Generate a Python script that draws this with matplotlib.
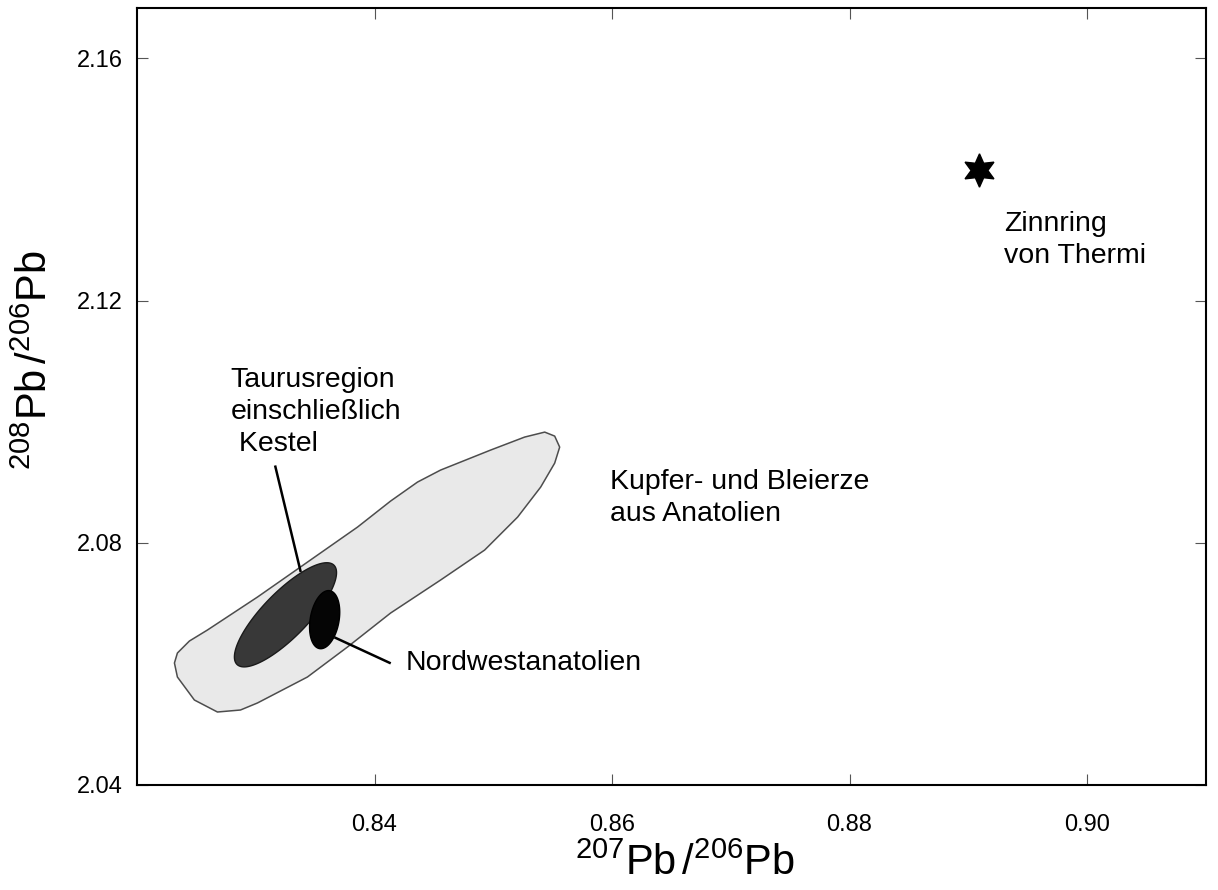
import numpy as np
import matplotlib
matplotlib.use("Agg")
import matplotlib.pyplot as plt

plt.rcParams['font.family'] = ['Liberation Sans', 'DejaVu Sans']
plt.rcParams['mathtext.fontset'] = 'custom'
plt.rcParams['mathtext.rm'] = 'Liberation Sans'
plt.rcParams['mathtext.it'] = 'Liberation Sans'

# outline of the Anatolian ore field (207Pb/206Pb, 208Pb/206Pb)
field_x = [0.82315, 0.82340, 0.82441, 0.82593, 0.83014, 0.83376, 0.83857,
           0.84135, 0.84362, 0.84556, 0.84977, 0.85264, 0.85433, 0.85517,
           0.85559, 0.85517, 0.85399, 0.85205, 0.84927, 0.84556, 0.84135,
           0.83772, 0.83435, 0.83014, 0.82871, 0.82677, 0.82483, 0.82340]
field_y = [2.06014, 2.06179, 2.06377, 2.06559, 2.07103, 2.07599, 2.08259,
           2.08688, 2.09002, 2.09200, 2.09530, 2.09745, 2.09827, 2.09761,
           2.09579, 2.09315, 2.08919, 2.08424, 2.07879, 2.07384, 2.06839,
           2.06278, 2.05783, 2.05354, 2.05238, 2.05205, 2.05403, 2.05783]

# ellipses: centre x, centre y, half width, half height, tilt phase (deg)
taurus = (0.8325, 2.0681, 0.0043, 0.0086, 36)
nw_anatolia = (0.8358, 2.0673, 0.00127, 0.0048, 75)

# tin ring from Thermi
ring_x = [0.8909]
ring_y = [2.1415]

# leader lines
taurus_line = ([0.83165, 0.83376], [2.09256, 2.07537])
nw_line = ([0.83671, 0.84127], [2.0643, 2.06017])

x_ticks = [0.84, 0.86, 0.88, 0.90]
y_ticks = [2.04, 2.08, 2.12, 2.16]


def ellipse_xy(p):
    cx, cy, rx, ry, phi = p
    t = np.linspace(0, 2 * np.pi, 200)
    return cx + rx * np.cos(t), cy + ry * np.cos(t - np.radians(phi))


fig = plt.figure(figsize=(12.18, 8.9), dpi=100)
ax = fig.add_axes([0.1125, 0.118, 0.8775, 0.873])

ax.fill(field_x, field_y, facecolor='#e9e9e9', edgecolor='#4d4d4d', lw=1.1,
        joinstyle='round', zorder=1)

ex, ey = ellipse_xy(taurus)
ax.fill(ex, ey, facecolor='#383838', edgecolor='#1a1a1a', lw=1, zorder=2)
ex, ey = ellipse_xy(nw_anatolia)
ax.fill(ex, ey, facecolor='#050505', edgecolor='#000000', lw=1, zorder=3)

ax.plot(*taurus_line, color='black', lw=1.8, zorder=4)
ax.plot(*nw_line, color='black', lw=1.8, zorder=4)

ax.plot(ring_x, ring_y, linestyle='none', marker=(6, 1, 0), ms=24,
        color='black', zorder=5)

txt = dict(fontsize=20.5, color='black', linespacing=1.32)
ax.text(0.8279, 2.1016, 'Taurusregion\neinschließlich\n Kestel', ha='left', va='center', **txt)
ax.text(0.8598, 2.0874, 'Kupfer- und Bleierze\naus Anatolien', ha='left', va='center', **txt)
ax.text(0.8426, 2.0601, 'Nordwestanatolien', ha='left', va='center', **txt)
ax.text(0.8930, 2.1300, 'Zinnring\nvon Thermi', ha='left', va='center', **txt)

ax.set_xlim(0.82, 0.91)
ax.set_ylim(2.04, 2.1683)
ax.set_xticks(x_ticks)
ax.set_xticklabels(['%.2f' % v for v in x_ticks])
ax.set_yticks(y_ticks)
ax.set_yticklabels(['%.2f' % v for v in y_ticks])

ax.tick_params(direction='in', length=8, width=0.8, color='#555555',
               labelsize=17, labelcolor='black', top=True, right=True)
ax.tick_params(axis='x', pad=21)
ax.tick_params(axis='y', pad=10)
for s in ax.spines.values():
    s.set_linewidth(1.5)

ax.set_xlabel(r'$^{207}$Pb$\,/^{206}$Pb', fontsize=30)
ax.set_ylabel(r'$^{208}$Pb$\,/^{206}$Pb', fontsize=30)
ax.xaxis.set_label_coords(0.513, -0.101)
ax.xaxis.label.set_verticalalignment('center')
ax.yaxis.set_label_coords(-0.095, 0.547)
ax.yaxis.label.set_verticalalignment('center')

fig.savefig('out.png', dpi=100)
